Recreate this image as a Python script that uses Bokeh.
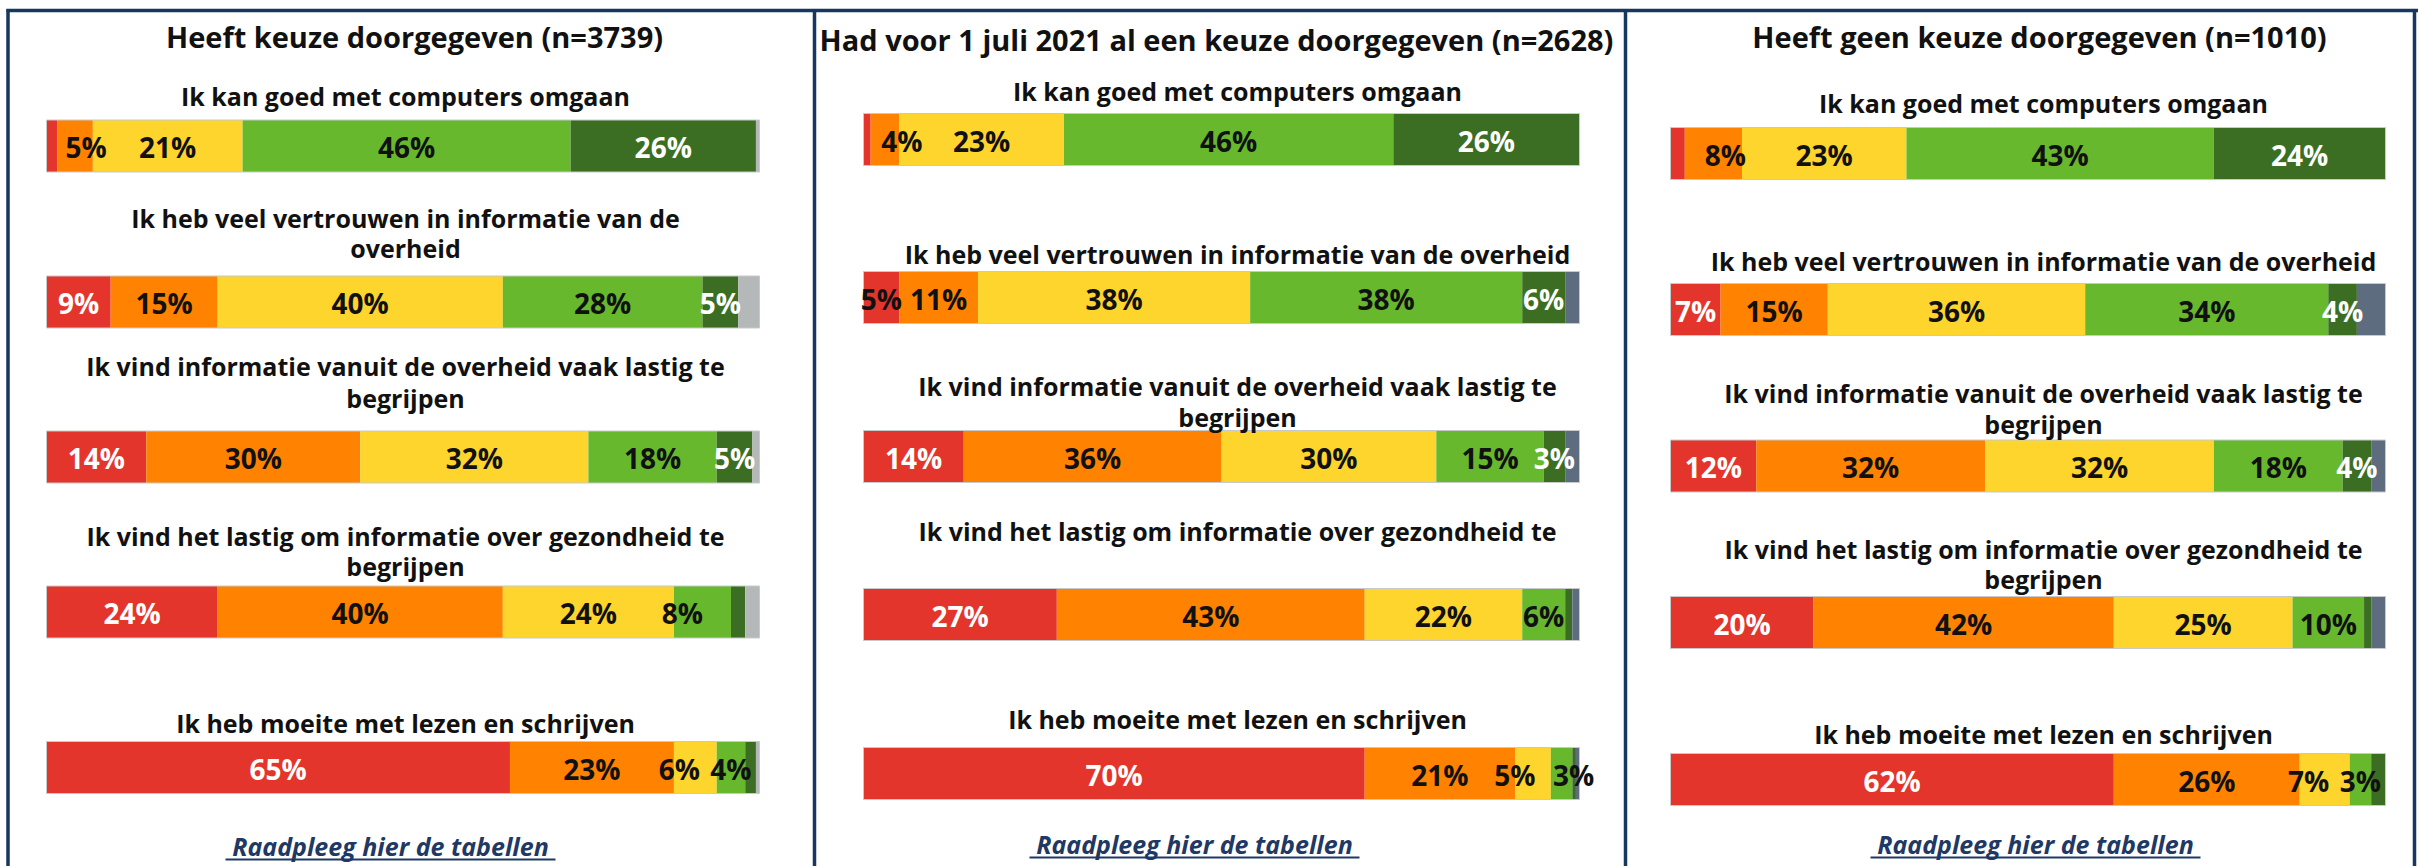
import numpy as np
from bokeh.plotting import figure
from bokeh.models import Range1d, ColumnDataSource
from bokeh.embed import file_html
from bokeh.resources import INLINE
from bokeh.core.properties import value

# ---------------- data ----------------
categorieen = ["Helemaal oneens", "Oneens", "Neutraal", "Eens", "Helemaal eens", "Weet niet"]
groepen = [
    "Heeft keuze doorgegeven (n=3739)",
    "Had voor 1 juli 2021 al een keuze doorgegeven (n=2628)",
    "Heeft geen keuze doorgegeven (n=1010)",
]
stellingen = [
    "Ik kan goed met computers omgaan",
    "Ik heb veel vertrouwen in informatie van de overheid",
    "Ik vind informatie vanuit de overheid vaak lastig te begrijpen",
    "Ik vind het lastig om informatie over gezondheid te begrijpen",
    "Ik heb moeite met lezen en schrijven",
]
# wrapped as shown in each panel
regels_heeft_keuze = [
    ["Ik kan goed met computers omgaan"],
    ["Ik heb veel vertrouwen in informatie van de", "overheid"],
    ["Ik vind informatie vanuit de overheid vaak lastig te", "begrijpen"],
    ["Ik vind het lastig om informatie over gezondheid te", "begrijpen"],
    ["Ik heb moeite met lezen en schrijven"],
]
regels_voor_juli = [
    ["Ik kan goed met computers omgaan"],
    ["Ik heb veel vertrouwen in informatie van de overheid"],
    ["Ik vind informatie vanuit de overheid vaak lastig te", "begrijpen"],
    ["Ik vind het lastig om informatie over gezondheid te"],
    ["Ik heb moeite met lezen en schrijven"],
]
regels_geen_keuze = [
    ["Ik kan goed met computers omgaan"],
    ["Ik heb veel vertrouwen in informatie van de overheid"],
    ["Ik vind informatie vanuit de overheid vaak lastig te", "begrijpen"],
    ["Ik vind het lastig om informatie over gezondheid te", "begrijpen"],
    ["Ik heb moeite met lezen en schrijven"],
]

# percentages per statement: oneens++, oneens, neutraal, eens, eens++, weet niet
heeft_keuze = [
    [1.5, 5, 21, 46, 26, 0.5],
    [9, 15, 40, 28, 5, 3],
    [14, 30, 32, 18, 5, 1],
    [24, 40, 24, 8, 2, 2],
    [65, 23, 6, 4, 1.5, 0.5],
]
voor_juli_2021 = [
    [1, 4, 23, 46, 26, 0],
    [5, 11, 38, 38, 6, 2],
    [14, 36, 30, 15, 3, 2],
    [27, 43, 22, 6, 1, 1],
    [70, 21, 5, 3, 0.5, 0.5],
]
geen_keuze = [
    [2, 8, 23, 43, 24, 0],
    [7, 15, 36, 34, 4, 4],
    [12, 32, 32, 18, 4, 2],
    [20, 42, 25, 10, 1, 2],
    [62, 26, 7, 3, 2, 0],
]
link_tekst = "Raadpleeg hier de tabellen"

# ---------------- style / layout ----------------
kleuren = ["#E3352B", "#FF8300", "#FDD52D", "#67B82D", "#3B6E23"]
label_kleur = ["white", "#111111", "#111111", "#111111", "white"]
NAVY = "#17375E"
FONT = "Open Sans"

W, H = 2418, 866

panels = [
    dict(data=heeft_keuze, lines=regels_heeft_keuze, title=groepen[0], grey="#B5B8B8",
         bar_l=46, bar_r=759, bar_y=[145.5, 301.5, 456.5, 611.5, 767],
         q_y=[[95], [217, 247], [365, 397], [535, 565], [722]],
         title_x=414, title_y=36, q_x=405, link_x=390, link_y=845,
         nudge={(0, 1): 11, (3, 3): -20, (4, 2): -16}, dark=set()),
    dict(data=voor_juli_2021, lines=regels_voor_juli, title=groepen[1], grey="#5D6C7F",
         bar_l=863, bar_r=1579, bar_y=[139, 297, 456, 614, 773],
         q_y=[[90], [253], [385, 416], [530], [718]],
         title_x=1216, title_y=39, q_x=1237, link_x=1194, link_y=843,
         nudge={(0, 1): 17, (4, 2): -18, (4, 3): 12}, dark={(1, 0)}),
    dict(data=geen_keuze, lines=regels_geen_keuze, title=groepen[2], grey="#5D6C7F",
         bar_l=1670, bar_r=2385, bar_y=[153, 309, 465.5, 622, 779],
         q_y=[[102], [260], [392, 423], [548, 578], [733]],
         title_x=2039, title_y=36, q_x=2043, link_x=2035, link_y=843,
         nudge={(0, 1): 12, (4, 2): -16}, dark=set()),
]
BAR_H = 52

p = figure(width=W, height=H, x_range=Range1d(0, W), y_range=Range1d(H, 0),
           output_backend="svg", toolbar_location=None,
           x_axis_location=None, y_axis_location=None, min_border=0)
p.outline_line_color = None
p.grid.visible = False
p.background_fill_color = "white"
p.border_fill_color = "white"

for n, pn in enumerate(panels):
    name = f"p{n}"
    L = pn["bar_l"]
    R = pn["bar_r"]
    k = 100.0 / (R - L)
    p.extra_x_ranges[name] = Range1d(-L * k, (W - L) * k)

    seg = dict(left=[], right=[], y=[], color=[])
    lab = dict(x=[], y=[], text=[], color=[], off=[])
    cols = kleuren + [pn["grey"]]
    for i, vals in enumerate(pn["data"]):
        cum = np.concatenate([[0.0], np.cumsum(vals)])
        yc = pn["bar_y"][i]
        for j, v in enumerate(vals):
            if v <= 0:
                continue
            seg["left"].append(cum[j])
            seg["right"].append(cum[j + 1])
            seg["y"].append(yc)
            seg["color"].append(cols[j])
            if j < 5 and v >= 3:
                lab["x"].append((cum[j] + cum[j + 1]) / 2)
                lab["y"].append(yc + 1)
                lab["text"].append(f"{v:g}%")
                c = label_kleur[j]
                if (i, j) in pn["dark"]:
                    c = "#111111"
                lab["color"].append(c)
                lab["off"].append(pn["nudge"].get((i, j), 0))

    p.hbar(y="y", left="left", right="right", height=BAR_H, fill_color="color",
           line_color=None, source=ColumnDataSource(seg), x_range_name=name)
    p.hbar(y=pn["bar_y"], left=0, right=100, height=BAR_H,
           fill_color=None, line_color="#C8C9C9", line_width=1, x_range_name=name)
    p.text(x="x", y="y", text="text", text_color="color", x_offset="off",
           source=ColumnDataSource(lab), x_range_name=name,
           text_font=value(FONT), text_font_style="bold", text_font_size="28px",
           text_align="center", text_baseline="middle")

    # title
    p.text(x=[pn["title_x"]], y=[pn["title_y"]], text=[pn["title"]],
           text_font=value(FONT), text_font_style="bold", text_font_size="29px",
           text_align="center", text_baseline="middle", text_color="#111111")
    # statements
    qx, qy, qt = [], [], []
    for lines, ys in zip(pn["lines"], pn["q_y"]):
        for t, y in zip(lines, ys):
            qx.append(pn["q_x"])
            qy.append(y)
            qt.append(t)
    p.text(x=qx, y=qy, text=qt, text_font=value(FONT), text_font_style="bold",
           text_font_size="25px", text_align="center", text_baseline="middle",
           text_color="#111111")
    # link
    p.text(x=[pn["link_x"]], y=[pn["link_y"]], text=[link_tekst],
           text_font=value(FONT), text_font_style="bold italic", text_font_size="25px",
           text_align="center", text_baseline="middle", text_color="#1F3864")
    lx = pn["link_x"]
    p.segment(x0=[lx - 165], x1=[lx + 165], y0=[pn["link_y"] + 14],
              y1=[pn["link_y"] + 14], line_color="#1F3864", line_width=2)

# panel borders
p.segment(x0=[6], x1=[W], y0=[10], y1=[10], line_color=NAVY, line_width=3.5)
p.segment(x0=[7.5, 814, 1625, 2414], x1=[7.5, 814, 1625, 2414],
          y0=[8.5, 8.5, 8.5, 8.5], y1=[H, H, H, H], line_color=NAVY, line_width=3.5)

open("out.html", "w").write(file_html(p, INLINE))
